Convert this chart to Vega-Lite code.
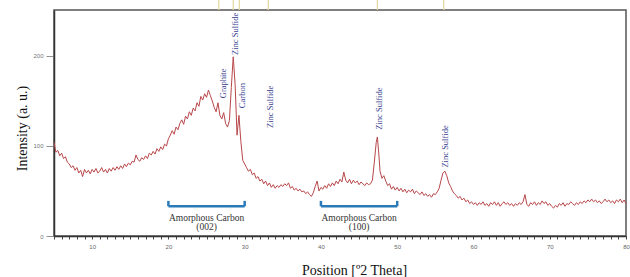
{
  "$schema": "https://vega.github.io/schema/vega-lite/v6.json",
  "autosize": {"type": "none"},
  "width": 572,
  "height": 226,
  "padding": {"left": 54, "top": 10, "right": 4, "bottom": 41},
  "background": "white",
  "config": {
    "view": {"stroke": "#555555", "strokeWidth": 1.5},
    "font": "Liberation Serif"
  },
  "datasets": {
    "xrd": [
      {"t":5.0,"i":104},{"t":5.25,"i":93},{"t":5.5,"i":95},{"t":5.75,"i":89},{"t":6.0,"i":92},{"t":6.25,"i":86},{"t":6.5,"i":88},{"t":6.75,"i":82},
      {"t":7.0,"i":80},{"t":7.25,"i":76},{"t":7.5,"i":78},{"t":7.75,"i":73},{"t":8.0,"i":76},{"t":8.25,"i":70},{"t":8.5,"i":73},{"t":8.75,"i":66},
      {"t":9.0,"i":74},{"t":9.25,"i":70},{"t":9.5,"i":73},{"t":9.75,"i":69},{"t":10.0,"i":74},{"t":10.25,"i":71},{"t":10.5,"i":75},{"t":10.75,"i":70},
      {"t":11.0,"i":72},{"t":11.25,"i":76},{"t":11.5,"i":71},{"t":11.75,"i":74},{"t":12.0,"i":70},{"t":12.25,"i":75},{"t":12.5,"i":72},{"t":12.75,"i":76},
      {"t":13.0,"i":73},{"t":13.25,"i":77},{"t":13.5,"i":74},{"t":13.75,"i":78},{"t":14.0,"i":75},{"t":14.25,"i":80},{"t":14.5,"i":77},{"t":14.75,"i":81},
      {"t":15.0,"i":79},{"t":15.25,"i":83},{"t":15.5,"i":82},{"t":15.75,"i":90},{"t":16.0,"i":85},{"t":16.25,"i":83},{"t":16.5,"i":87},{"t":16.75,"i":85},
      {"t":17.0,"i":89},{"t":17.25,"i":86},{"t":17.5,"i":92},{"t":17.75,"i":90},{"t":18.0,"i":94},{"t":18.25,"i":91},{"t":18.5,"i":97},{"t":18.75,"i":94},
      {"t":19.0,"i":99},{"t":19.25,"i":96},{"t":19.5,"i":102},{"t":19.75,"i":100},{"t":20.0,"i":108},{"t":20.25,"i":112},{"t":20.5,"i":117},{"t":20.75,"i":113},
      {"t":21.0,"i":121},{"t":21.25,"i":118},{"t":21.5,"i":125},{"t":21.75,"i":129},{"t":22.0,"i":124},{"t":22.25,"i":133},{"t":22.5,"i":130},{"t":22.75,"i":138},
      {"t":23.0,"i":134},{"t":23.25,"i":142},{"t":23.5,"i":139},{"t":23.75,"i":148},{"t":24.0,"i":144},{"t":24.25,"i":155},{"t":24.5,"i":151},{"t":24.75,"i":158},
      {"t":25.0,"i":154},{"t":25.25,"i":162},{"t":25.5,"i":156},{"t":25.75,"i":150},{"t":26.0,"i":143},{"t":26.25,"i":138},{"t":26.5,"i":148},{"t":26.75,"i":134},
      {"t":27.0,"i":130},{"t":27.25,"i":137},{"t":27.5,"i":125},{"t":27.75,"i":121},{"t":28.0,"i":128},{"t":28.25,"i":165},{"t":28.5,"i":199},{"t":28.75,"i":168},
      {"t":29.0,"i":112},{"t":29.25,"i":134},{"t":29.5,"i":105},{"t":29.75,"i":84},{"t":30.0,"i":80},{"t":30.25,"i":76},{"t":30.5,"i":72},{"t":30.75,"i":74},
      {"t":31.0,"i":68},{"t":31.25,"i":70},{"t":31.5,"i":64},{"t":31.75,"i":66},{"t":32.0,"i":61},{"t":32.25,"i":63},{"t":32.5,"i":58},{"t":32.75,"i":61},
      {"t":33.0,"i":56},{"t":33.25,"i":59},{"t":33.5,"i":54},{"t":33.75,"i":57},{"t":34.0,"i":53},{"t":34.25,"i":56},{"t":34.5,"i":54},{"t":34.75,"i":57},
      {"t":35.0,"i":55},{"t":35.25,"i":58},{"t":35.5,"i":56},{"t":35.75,"i":59},{"t":36.0,"i":53},{"t":36.25,"i":55},{"t":36.5,"i":51},{"t":36.75,"i":53},
      {"t":37.0,"i":50},{"t":37.25,"i":52},{"t":37.5,"i":49},{"t":37.75,"i":50},{"t":38.0,"i":47},{"t":38.25,"i":49},{"t":38.5,"i":46},{"t":38.75,"i":44},
      {"t":39.0,"i":48},{"t":39.25,"i":55},{"t":39.5,"i":61},{"t":39.75,"i":50},{"t":40.0,"i":54},{"t":40.25,"i":52},{"t":40.5,"i":56},{"t":40.75,"i":53},
      {"t":41.0,"i":58},{"t":41.25,"i":55},{"t":41.5,"i":59},{"t":41.75,"i":56},{"t":42.0,"i":61},{"t":42.25,"i":58},{"t":42.5,"i":63},{"t":42.75,"i":60},
      {"t":43.0,"i":71},{"t":43.25,"i":62},{"t":43.5,"i":59},{"t":43.75,"i":63},{"t":44.0,"i":58},{"t":44.25,"i":62},{"t":44.5,"i":59},{"t":44.75,"i":61},
      {"t":45.0,"i":57},{"t":45.25,"i":60},{"t":45.5,"i":58},{"t":45.75,"i":56},{"t":46.0,"i":59},{"t":46.25,"i":57},{"t":46.5,"i":58},{"t":46.75,"i":62},
      {"t":47.0,"i":82},{"t":47.25,"i":104},{"t":47.4,"i":110},{"t":47.6,"i":90},{"t":47.75,"i":72},{"t":48.0,"i":64},{"t":48.25,"i":67},{"t":48.5,"i":61},
      {"t":48.75,"i":56},{"t":49.0,"i":58},{"t":49.25,"i":52},{"t":49.5,"i":55},{"t":49.75,"i":51},{"t":50.0,"i":54},{"t":50.25,"i":50},{"t":50.5,"i":53},
      {"t":50.75,"i":49},{"t":51.0,"i":52},{"t":51.25,"i":48},{"t":51.5,"i":51},{"t":51.75,"i":49},{"t":52.0,"i":52},{"t":52.25,"i":47},{"t":52.5,"i":50},
      {"t":52.75,"i":48},{"t":53.0,"i":46},{"t":53.25,"i":49},{"t":53.5,"i":45},{"t":53.75,"i":47},{"t":54.0,"i":44},{"t":54.25,"i":46},{"t":54.5,"i":43},
      {"t":54.75,"i":47},{"t":55.0,"i":46},{"t":55.25,"i":49},{"t":55.5,"i":53},{"t":55.75,"i":62},{"t":56.0,"i":70},{"t":56.25,"i":72},{"t":56.5,"i":67},
      {"t":56.75,"i":59},{"t":57.0,"i":55},{"t":57.25,"i":50},{"t":57.5,"i":47},{"t":57.75,"i":45},{"t":58.0,"i":42},{"t":58.25,"i":44},{"t":58.5,"i":40},
      {"t":58.75,"i":42},{"t":59.0,"i":38},{"t":59.25,"i":40},{"t":59.5,"i":36},{"t":59.75,"i":38},{"t":60.0,"i":35},{"t":60.25,"i":37},{"t":60.5,"i":34},
      {"t":60.75,"i":37},{"t":61.0,"i":35},{"t":61.25,"i":38},{"t":61.5,"i":34},{"t":61.75,"i":36},{"t":62.0,"i":33},{"t":62.25,"i":37},{"t":62.5,"i":35},
      {"t":62.75,"i":38},{"t":63.0,"i":34},{"t":63.25,"i":37},{"t":63.5,"i":33},{"t":63.75,"i":36},{"t":64.0,"i":38},{"t":64.25,"i":35},{"t":64.5,"i":37},
      {"t":64.75,"i":34},{"t":65.0,"i":36},{"t":65.25,"i":33},{"t":65.5,"i":36},{"t":65.75,"i":34},{"t":66.0,"i":37},{"t":66.25,"i":35},{"t":66.5,"i":38},
      {"t":66.75,"i":46},{"t":67.0,"i":35},{"t":67.25,"i":33},{"t":67.5,"i":37},{"t":67.75,"i":35},{"t":68.0,"i":38},{"t":68.25,"i":34},{"t":68.5,"i":37},
      {"t":68.75,"i":35},{"t":69.0,"i":39},{"t":69.25,"i":36},{"t":69.5,"i":38},{"t":69.75,"i":34},{"t":70.0,"i":36},{"t":70.25,"i":33},{"t":70.5,"i":31},
      {"t":70.75,"i":34},{"t":71.0,"i":32},{"t":71.25,"i":36},{"t":71.5,"i":34},{"t":71.75,"i":37},{"t":72.0,"i":33},{"t":72.25,"i":36},{"t":72.5,"i":35},
      {"t":72.75,"i":38},{"t":73.0,"i":36},{"t":73.25,"i":34},{"t":73.5,"i":37},{"t":73.75,"i":35},{"t":74.0,"i":38},{"t":74.25,"i":36},{"t":74.5,"i":39},
      {"t":74.75,"i":37},{"t":75.0,"i":40},{"t":75.25,"i":38},{"t":75.5,"i":41},{"t":75.75,"i":38},{"t":76.0,"i":40},{"t":76.25,"i":37},{"t":76.5,"i":39},
      {"t":76.75,"i":36},{"t":77.0,"i":38},{"t":77.25,"i":41},{"t":77.5,"i":38},{"t":77.75,"i":40},{"t":78.0,"i":37},{"t":78.25,"i":39},{"t":78.5,"i":36},
      {"t":78.75,"i":40},{"t":79.0,"i":38},{"t":79.25,"i":41},{"t":79.5,"i":37},{"t":79.75,"i":40},{"t":80.0,"i":36}
    ],
    "refs": [
      {"t": 26.6, "a": 251, "b": 263},
      {"t": 28.5, "a": 251, "b": 263},
      {"t": 29.3, "a": 251, "b": 263},
      {"t": 33.1, "a": 251, "b": 263},
      {"t": 47.4, "a": 251, "b": 263},
      {"t": 56.1, "a": 251, "b": 263}
    ],
    "labels": [
      {"t": 27.1, "i": 153, "txt": "Graphite"},
      {"t": 28.7, "i": 201, "txt": "Zinc Sulfide"},
      {"t": 29.6, "i": 142, "txt": "Carbon"},
      {"t": 33.3, "i": 120, "txt": "Zinc Sulfide"},
      {"t": 47.55, "i": 118, "txt": "Zinc Sulfide"},
      {"t": 56.3, "i": 76, "txt": "Zinc Sulfide"}
    ],
    "brackets": [
      {"x1": 20, "x2": 30, "y1": 33, "y2": 33},
      {"x1": 20, "x2": 20, "y1": 33, "y2": 39},
      {"x1": 30, "x2": 30, "y1": 33, "y2": 39},
      {"x1": 40, "x2": 50, "y1": 33, "y2": 33},
      {"x1": 40, "x2": 40, "y1": 33, "y2": 39},
      {"x1": 50, "x2": 50, "y1": 33, "y2": 39}
    ],
    "btext": [
      {"t": 25, "i": 20, "txt": "Amorphous Carbon"},
      {"t": 25, "i": 10, "txt": "(002)"},
      {"t": 45, "i": 20, "txt": "Amorphous Carbon"},
      {"t": 45, "i": 10, "txt": "(100)"}
    ]
  },
  "encoding": {
    "x": {
      "type": "quantitative",
      "scale": {"domain": [5, 80], "nice": false, "zero": false},
      "axis": {
        "title": "Position [º2 Theta]",
        "titleFont": "Liberation Serif", "titleFontSize": 14, "titleFontWeight": "normal", "titleColor": "#111",
        "titleBaseline": "middle", "titleY": 34, "titleX": 300,
        "values": [5,6,7,8,9,10,11,12,13,14,15,16,17,18,19,20,21,22,23,24,25,26,27,28,29,30,31,32,33,34,35,36,37,38,39,40,41,42,43,44,45,46,47,48,49,50,51,52,53,54,55,56,57,58,59,60,61,62,63,64,65,66,67,68,69,70,71,72,73,74,75,76,77,78,79,80],
        "labelExpr": "datum.value % 10 === 0 ? datum.label : ''",
        "labelFont": "Liberation Sans", "labelFontSize": 6, "labelColor": "#666", "labelPadding": 4, "labelOverlap": false, "labelFlush": false,
        "tickSize": 3, "tickColor": "#444", "tickWidth": 1,
        "domain": true, "domainColor": "#333", "domainWidth": 1.5, "grid": false
      }
    },
    "y": {
      "type": "quantitative",
      "scale": {"domain": [0, 251], "nice": false},
      "axis": {
        "title": "Intensity (a. u.)",
        "titleFont": "Liberation Serif", "titleFontSize": 14, "titleFontWeight": "normal", "titleColor": "#111",
        "titleAngle": -90, "titleAlign": "center", "titleBaseline": "middle", "titleX": -32, "titleY": 118,
        "values": [0, 100, 200],
        "labelFont": "Liberation Sans", "labelFontSize": 6, "labelColor": "#777", "labelPadding": 3, "labelFlush": false,
        "tickSize": 8, "tickColor": "#777", "tickWidth": 0.8,
        "domain": true, "domainColor": "#333", "domainWidth": 1.5, "grid": false
      }
    }
  },
  "layer": [
    {
      "data": {"name": "refs"},
      "mark": {"type": "rule", "color": "#e3d79f", "strokeWidth": 1.2},
      "encoding": {
        "x": {"field": "t"},
        "y": {"field": "a"},
        "y2": {"field": "b"}
      }
    },
    {
      "data": {"name": "xrd"},
      "mark": {"type": "line", "color": "#b8474a", "strokeWidth": 1},
      "encoding": {
        "x": {"field": "t"},
        "y": {"field": "i"}
      }
    },
    {
      "data": {"name": "labels"},
      "mark": {"type": "text", "angle": 270, "align": "left", "baseline": "middle", "font": "Liberation Serif", "fontSize": 8.5, "color": "#3a3f8f"},
      "encoding": {
        "x": {"field": "t"},
        "y": {"field": "i"},
        "text": {"field": "txt"}
      }
    },
    {
      "data": {"name": "brackets"},
      "mark": {"type": "rule", "color": "#2a7ab8", "strokeWidth": 2.5},
      "encoding": {
        "x": {"field": "x1"},
        "x2": {"field": "x2"},
        "y": {"field": "y1"},
        "y2": {"field": "y2"}
      }
    },
    {
      "data": {"name": "btext"},
      "mark": {"type": "text", "align": "center", "baseline": "middle", "font": "Liberation Serif", "fontSize": 9.5, "color": "#333"},
      "encoding": {
        "x": {"field": "t"},
        "y": {"field": "i"},
        "text": {"field": "txt"}
      }
    }
  ]
}
